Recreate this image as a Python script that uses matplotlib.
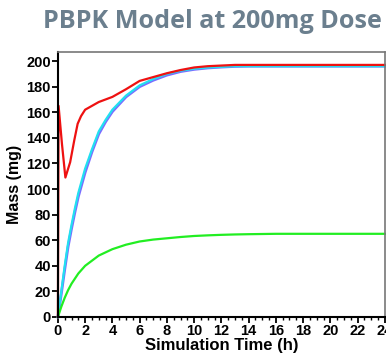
import matplotlib
matplotlib.use("Agg")
import matplotlib.pyplot as plt
from matplotlib.ticker import MultipleLocator

t_red = [0, 0.05, 0.3, 0.55, 0.9, 1.2, 1.45, 1.7, 2.0, 2.5, 3, 4, 5, 6, 7, 8, 9, 10, 11, 12, 13, 14, 16, 20, 24]
red = [0, 165, 135, 109, 121, 138, 151, 157, 162, 165, 168, 172, 178, 184.5, 187.5, 190.5, 193, 195, 196, 196.5, 197, 197, 197, 197, 197]

t_rise = [0, 0.25, 0.5, 0.75, 1, 1.25, 1.5, 2, 2.5, 3, 3.5, 4, 5, 6, 7, 8, 9, 10, 11, 12, 13, 14, 16, 20, 24]
cyan = [0, 20, 40, 58, 72, 85, 97, 116, 131, 145, 154, 162, 173, 181, 186, 190, 192.5, 194, 195, 195.5, 196, 196, 196, 196, 196]
blue = [0, 18, 37, 55, 69, 82, 94, 113, 129, 143, 152.5, 160.5, 172, 180, 185, 189, 191.8, 193.5, 194.6, 195.3, 195.8, 196, 196, 196, 196]
green = [0, 8, 15, 21, 26, 30, 34, 40, 44, 48, 50.5, 53, 56.5, 59, 60.5, 61.5, 62.5, 63.3, 63.8, 64.2, 64.5, 64.7, 65, 65, 65]

x_ticks = list(range(0, 25, 2))
y_ticks = list(range(0, 201, 20))

fig = plt.figure(figsize=(3.86, 3.56), dpi=100)
ax = fig.add_axes([0.150, 0.1096, 0.847, 0.744])

ax.plot(t_rise, blue, color="#7a6cff", lw=2.0, clip_on=False)
ax.plot(t_rise, cyan, color="#22e0f0", lw=1.6, clip_on=False)
ax.plot(t_rise, green, color="#22ee22", lw=1.6, clip_on=False)
ax.plot(t_red, red, color="#ee1111", lw=1.6, clip_on=False)

ax.set_xlim(0, 24)
ax.set_ylim(0, 207)
ax.set_xticks(x_ticks)
ax.set_yticks(y_ticks)
ax.xaxis.set_minor_locator(MultipleLocator(0.5))
ax.tick_params(axis="both", which="major", direction="out", length=4, width=1.3, pad=1)
ax.tick_params(axis="x", which="minor", direction="out", length=2.5, width=1)
for lab in ax.get_xticklabels() + ax.get_yticklabels():
    lab.set_fontfamily("Liberation Sans")
    lab.set_fontweight("bold")
    lab.set_fontsize(10.5)

for s in ["left", "bottom"]:
    ax.spines[s].set_linewidth(1.5)
    ax.spines[s].set_color("black")
for s in ["top", "right"]:
    ax.spines[s].set_linewidth(1.2)
    ax.spines[s].set_color("#777777")

ax.set_xlabel("Simulation Time (h)", fontfamily="Liberation Sans", fontweight="bold", fontsize=12, labelpad=0)
ax.set_ylabel("Mass (mg)", fontfamily="Liberation Sans", fontweight="bold", fontsize=11.5, labelpad=3)

fig.text(0.551, 0.94, "PBPK Model at 200mg Dose", ha="center", va="center",
         fontfamily="Open Sans", fontweight="bold", fontsize=18.1, color="#6b7f8e")

fig.savefig("out.png", dpi=100)
